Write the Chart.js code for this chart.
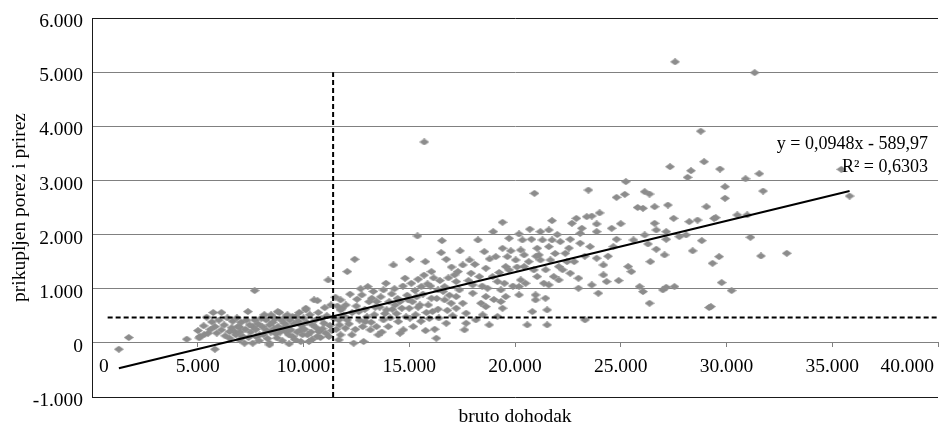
<!DOCTYPE html>
<html>
<head>
<meta charset="utf-8">
<script src="https://cdn.jsdelivr.net/npm/chart.js@4.4.1/dist/chart.umd.min.js"></script>
<style>
  html, body { margin: 0; padding: 0; background: #ffffff; }
  #wrap { width: 943px; height: 428px; }
</style>
</head>
<body>
<div id="wrap"><canvas id="chart" width="943" height="428"></canvas></div>
<script>
// ---------- DATA ----------
// [bruto dohodak, prikupljen porez i prirez]
const observations = [
  [1270,-117],[1740,98],[4480,68],[5010,227],[5070,92],[5100,117],[5280,314],[5420,474],[5490,178],[5670,387],
  [5730,560],[5810,300],[5810,-117],[6120,560],[6120,240],[6510,209],[6510,86],[6740,209],[6900,300],[6980,55],
  [6980,290],[7130,117],[7210,-6],[7370,578],[7600,300],[7600,-6],[7690,965],[7760,117],[7920,148],[8000,456],
  [8230,240],[8230,424],[8390,332],[8390,-6],[8390,-37],[8470,517],[8700,166],[8780,578],[8860,560],[9090,363],
  [9170,209],[9240,517],[9320,-18],[9480,117],[9480,486],[9640,486],[9870,240],[9870,24],[10110,640],[10110,609],
  [10190,148],[10260,24],[10420,332],[10500,793],[10650,117],[10660,780],[10730,209],[10970,363],[11170,1162],[11200,117],
  [11510,843],[11670,424],[11670,55],[11750,609],
  [5300,150],[5600,250],[5900,180],[6000,420],[6250,330],[6300,130],[6400,460],[6600,280],[6650,400],[6800,150],
  [6850,460],[7000,200],[7050,380],[7250,250],[7300,420],[7400,100],[7450,330],[7500,200],[7700,420],[7750,250],
  [7850,350],[7900,40],[8050,300],[8100,150],[8150,520],[8300,80],[8450,200],[8550,380],[8600,260],[8650,450],
  [8750,90],[8800,300],[8900,200],[8950,420],[9000,40],[9050,270],[9150,480],[9250,300],[9300,150],[9350,420],
  [9400,240],[9550,350],[9600,60],[9700,200],[9750,400],[9800,560],[9900,320],[9950,150],[10000,460],[10050,250],
  [10150,380],[10300,520],[10350,200],[10400,60],[10550,420],[10600,280],[10700,560],[10800,100],[10850,450],[10900,260],
  [11000,650],[11050,180],[11100,500],[11250,320],[11300,700],[11350,230],[11450,450],[11550,250],[11600,680],[11700,330],
  [11750,793],[11750,148],[11830,640],[11980,271],[12060,424],[12070,1316],[12290,148],[12370,-6],[12420,1544],[12530,806],
  [12610,578],[12760,886],[12840,24],[12920,393],[13040,1039],[13160,240],[13230,824],[13390,658],[13460,762],[13540,148],
  [13780,978],[13780,424],[13930,609],[14010,300],[14170,904],[14250,1439],[14330,701],[14480,393],[14560,762],[14560,178],
  [14720,240],[14800,1194],[14950,793],[15030,1544],[15030,456],[15190,300],[15270,965],[15390,1974],[15420,1175],[15420,658],
  [15570,1039],[15710,3710],[15760,1500],[15770,227],[15810,560],[15860,1089],[16050,1316],[16050,824],[16200,252],[16280,86],
  [16360,622],[16360,978],[16510,1666],[16550,1888],[16670,1039],[16670,793],[16750,1544],[16750,363],[16980,732],[17140,1255],
  [11900,500],[12000,700],[12150,350],[12200,900],[12300,560],[12450,250],[12500,680],[12650,420],[12700,1000],[12800,300],
  [12900,620],[13000,480],[13100,760],[13200,380],[13300,950],[13350,520],[13450,300],[13600,660],[13650,850],[13700,200],
  [13850,540],[13900,1100],[14050,760],[14100,460],[14200,620],[14300,1000],[14400,540],[14450,820],[14650,640],[14700,1050],
  [14850,480],[14900,880],[15000,640],[15100,1100],[15150,760],[15300,520],[15350,850],[15500,700],[15550,400],[15650,900],
  [15700,1250],[15900,700],[15950,450],[16000,1050],[16100,580],[16150,1200],[16300,820],[16400,460],[16450,1150],[16600,950],
  [16800,600],[16850,1200],[16900,880],[17000,1400],[17050,500],
  [17220,1131],[17220,854],[17220,640],[17300,1316],[17370,978],[17530,1439],[17530,732],[17610,240],[17690,548],[17690,363],
  [17850,1531],[17920,1286],[18000,1070],[18000,917],[18150,424],[18310,1224],[18390,732],[18470,517],[18550,1684],[18620,1378],
  [18620,854],[18620,670],[18700,1009],[18780,332],[18940,1224],[18970,2054],[19090,1592],[19170,1131],[19170,486],[19330,978],
  [19330,762],[19410,2227],[19410,1747],[19410,640],[19560,1408],[19560,854],[19640,1592],[19720,1932],[19720,1347],[20030,1531],
  [20190,2011],[20190,1039],[20190,886],[20270,1716],[20270,1162],[20430,1624],[20430,1408],[20580,332],[20780,1913],[20820,578],
  [20890,1347],[20920,2762],[20970,886],[20970,793],[21050,1747],[21050,1224],[21130,1624],[21200,2054],[21200,1531],[21360,1101],
  [21440,824],[21520,609],[21520,332],[21600,2085],[21600,1777],[21600,1070],[21670,1531],[21750,2257],[21750,1900],[21830,1224],
  [22070,1408],[22070,1162],[22140,1869],[22380,1655],[22460,1500],[22610,1913],[22610,1286],[22690,2208],[23000,1194],[23000,1009],
  [17400,1700],[17800,1150],[18100,1450],[18250,1900],[18450,1050],[18800,1550],[19000,800],[19250,1300],[19500,1100],[19800,1700],
  [19900,1050],[20100,1400],[20350,1900],[20500,1100],[20650,1500],[20700,2100],[21000,1600],[21300,1900],[21450,1350],[21900,1650],
  [22000,2000],[22250,1350],[22550,1750],[22800,1500],[22900,2300],
  [23080,2023],[23080,1840],[23160,2116],[23310,424],[23390,2330],[23470,2823],[23550,1777],[23630,2343],[23630,1070],[23860,2196],
  [23860,2054],[23860,1563],[23940,917],[24180,1439],[24180,1255],[24330,1131],[24570,2116],[24650,1777],[24800,2688],[24800,1913],
  [25190,2743],[25240,2977],[25350,1408],[25500,1316],[25890,1039],[26050,2485],[26050,947],[26130,2792],[26130,1993],[26290,1827],
  [26360,2749],[26360,732],[26600,2515],[26600,2208],[26680,2085],[26680,1729],[26990,978],[27070,1624],[27150,2054],[27150,1913],
  [27150,1027],[27230,2546],[27330,3253],[27540,1039],[27570,5190],[27770,1962],[28090,1993],[28160,3057],[28240,2238],[28320,3179],
  [28630,2269],[28780,3910],[28830,1888],[28940,3345],[29050,2515],[29180,652],[29340,1470],[29410,2300],
  [23300,1600],[24000,2400],[24400,1600],[25000,2200],[25600,1900],[25800,2500],[26400,1500],[27500,2300],[28400,1700],[24900,1150],
  [29260,670],[29490,2312],[29650,1592],[29690,3210],[29770,1113],[29930,2884],[29930,2670],[30240,965],[30510,2362],[30900,3031],
  [30980,2362],[31130,1950],[31330,4990],[31550,3124],[31630,1605],[31730,2804],[32850,1655],[35430,3205],[35820,2712]
];

// Linear trend reported in the chart
const trendSlope = 0.0948;
const trendIntercept = -589.97;
const trendR2 = 0.6303;

// Dashed reference lines
const referenceIncome = 11400;            // vertical dashed line (x value)
const referenceIncomeRange = [-1000, 5000];
const referenceTax = 467;                 // horizontal dashed line (y value)
const referenceTaxRange = [740, 40000];

// Axes
const xAxisMin = 0, xAxisMax = 40000, xAxisStep = 5000;
const yAxisMin = -1000, yAxisMax = 6000, yAxisStep = 1000;
const xAxisTitle = 'bruto dohodak';
const yAxisTitle = 'prikupljen porez i prirez';

// ---------- helpers ----------
const FONT_FAMILY = '"Liberation Serif", "Times New Roman", serif';
const FONT_SIZE = 19.5;
const EQUATION_FONT_SIZE = 18;

function thousands(v) {
  const sign = v < 0 ? '-' : '';
  const s = String(Math.round(Math.abs(v)));
  return sign + s.replace(/\B(?=(\d{3})+(?!\d))/g, '.');
}
function decComma(v, digits) {
  return Math.abs(v).toFixed(digits).replace('.', ',');
}

// flattened grey diamond marker
const marker = document.createElement('canvas');
marker.width = 10; marker.height = 7;
(function () {
  const m = marker.getContext('2d');
  m.fillStyle = '#8c8c8c';
  m.beginPath();
  m.moveTo(0, 3.5); m.lineTo(5, 0); m.lineTo(10, 3.5); m.lineTo(5, 7);
  m.closePath(); m.fill();
})();

const xs = observations.map(p => p[0]);
const trendFrom = Math.min(...xs), trendTo = Math.max(...xs);
const trendPoints = [trendFrom, trendTo].map(x => ({ x, y: trendSlope * x + trendIntercept }));

const scatterPoints = observations.map(p => ({ x: p[0], y: p[1] }));

const equationText = 'y = ' + decComma(trendSlope, 4) + 'x ' + (trendIntercept < 0 ? '- ' : '+ ') + decComma(trendIntercept, 2);
const r2Text = 'R\u00B2 = ' + decComma(trendR2, 4);

// Excel-like x tick labels: drawn below the zero line, kept inside the plot area
const xLabelPlugin = {
  id: 'xLabels',
  afterDraw(chart) {
    const { ctx, chartArea, scales } = chart;
    const xs = scales.x, ys = scales.y;
    const yBase = ys.getPixelForValue(0);
    ctx.save();
    ctx.font = FONT_SIZE + 'px ' + FONT_FAMILY;
    ctx.fillStyle = '#000';
    ctx.textAlign = 'left';
    ctx.textBaseline = 'middle';
    for (let v = xAxisMin; v <= xAxisMax; v += xAxisStep) {
      const text = thousands(v);
      const w = ctx.measureText(text).width;
      let left = xs.getPixelForValue(v) - w / 2;
      left = Math.max(left, chartArea.left + 7);
      left = Math.min(left, chartArea.right - 4 - w);
      ctx.fillText(text, left, yBase + 24);
    }
    ctx.restore();
  }
};

const equationPlugin = {
  id: 'equationLabel',
  afterDatasetsDraw(chart) {
    const { ctx, chartArea } = chart;
    ctx.save();
    ctx.font = EQUATION_FONT_SIZE + 'px ' + FONT_FAMILY;
    ctx.fillStyle = '#000';
    ctx.textAlign = 'right';
    ctx.textBaseline = 'middle';
    const x = chartArea.right - 10;
    ctx.fillText(equationText, x, chartArea.top + 126);
    ctx.fillText(r2Text, x, chartArea.top + 149);
    ctx.restore();
  }
};

Chart.defaults.font.family = FONT_FAMILY;
Chart.defaults.font.size = FONT_SIZE;
Chart.defaults.color = '#000';

new Chart(document.getElementById('chart'), {
  type: 'scatter',
  data: {
    datasets: [
      {
        type: 'line', label: 'trend', data: trendPoints,
        borderColor: '#000', borderWidth: 2, pointRadius: 0, fill: false, order: 0
      },
      {
        type: 'line', label: 'refTax',
        data: referenceTaxRange.map(x => ({ x, y: referenceTax })),
        borderColor: '#000', borderWidth: 2, borderDash: [5, 3], pointRadius: 0, fill: false, order: 0
      },
      {
        type: 'line', label: 'refIncome',
        data: referenceIncomeRange.map(y => ({ x: referenceIncome, y })),
        borderColor: '#000', borderWidth: 2, borderDash: [5, 3], pointRadius: 0, fill: false, order: 0
      },
      {
        label: 'obs', data: scatterPoints,
        pointStyle: marker, pointRadius: 5, pointHoverRadius: 5,
        backgroundColor: '#8c8c8c', borderWidth: 0, order: 1
      }
    ]
  },
  options: {
    responsive: false,
    animation: false,
    events: [],
    layout: { padding: { top: 18, left: 0, right: 0, bottom: 0 } },
    plugins: {
      legend: { display: false },
      tooltip: { enabled: false },
      title: {
        display: true, position: 'bottom', fullSize: false, text: xAxisTitle,
        color: '#000',
        font: { family: FONT_FAMILY, size: FONT_SIZE, weight: 'normal', lineHeight: 1 },
        padding: { top: 10, bottom: 1.5 }
      }
    },
    scales: {
      x: {
        type: 'linear',
        position: { y: 0 },
        min: xAxisMin, max: xAxisMax,
        ticks: {
          display: false, stepSize: xAxisStep, maxRotation: 0, autoSkip: false,
          callback: v => thousands(v)
        },
        grid: { display: true, drawOnChartArea: false, drawTicks: true, tickLength: 4, tickColor: '#808080' },
        border: { display: true, color: '#808080', width: 1 },
        afterFit(scale) { scale.paddingLeft = 0; scale.paddingRight = 0; }
      },
      y: {
        type: 'linear',
        position: 'left',
        min: yAxisMin, max: yAxisMax,
        ticks: {
          stepSize: yAxisStep, padding: 9, labelOffset: 4,
          color: '#000', font: { family: FONT_FAMILY, size: FONT_SIZE },
          callback: v => thousands(v)
        },
        grid: {
          drawTicks: false,
          color: c => (c.tick && (c.tick.value === yAxisMax || c.tick.value === yAxisMin)) ? '#1a1a1a' : '#808080',
          lineWidth: 1
        },
        border: { display: true, color: '#1a1a1a', width: 1 },
        title: {
          display: true, text: yAxisTitle, color: '#000',
          font: { family: FONT_FAMILY, size: FONT_SIZE },
          padding: { top: 8, bottom: 0 }
        },
        afterFit(scale) { scale.width = 92; scale.paddingTop = 0; scale.paddingBottom = 0; }
      }
    }
  },
  plugins: [equationPlugin, xLabelPlugin]
});
</script>
</body>
</html>
